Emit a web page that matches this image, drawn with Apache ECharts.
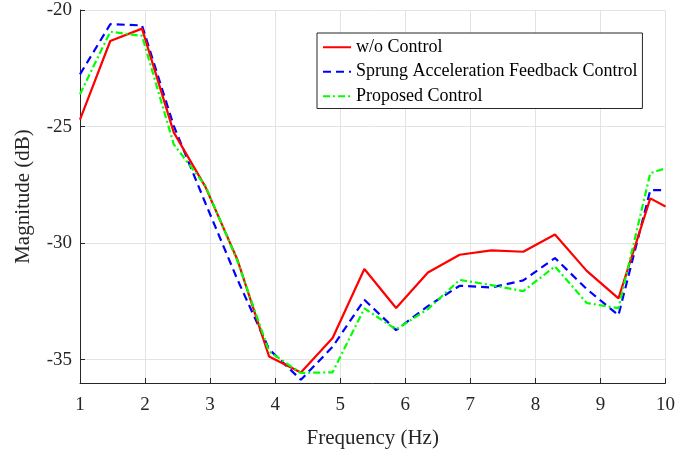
<!DOCTYPE html>
<html>
<head>
<meta charset="utf-8">
<script src="https://cdn.jsdelivr.net/npm/echarts@6/dist/echarts.min.js"></script>
<style>
html,body{margin:0;padding:0;background:#fff;}
#chart{width:678px;height:454px;}
</style>
</head>
<body>
<div id="chart"></div>
<script>
var freq = [1, 1.465, 1.953, 2.441, 2.93, 3.418, 3.906, 4.395, 4.883, 5.371, 5.859, 6.348, 6.836, 7.324, 7.813, 8.301, 8.789, 9.277, 9.766, 10];
var woControl = [-24.7, -21.33, -20.8, -25.25, -27.6, -30.7, -34.86, -35.55, -34.07, -31.11, -32.78, -31.26, -30.5, -30.31, -30.37, -29.63, -31.19, -32.37, -28.08, -28.43];
var sprungControl = [-22.76, -20.61, -20.66, -24.97, -28.3, -31.55, -34.55, -35.86, -34.45, -32.43, -33.73, -32.7, -31.83, -31.9, -31.6, -30.64, -31.97, -33.09, -27.73, -27.73];
var proposedControl = [-23.61, -20.93, -21.11, -25.76, -27.55, -30.75, -34.65, -35.57, -35.54, -32.8, -33.7, -32.83, -31.58, -31.8, -32.06, -31.0, -32.57, -32.79, -27.0, -26.79];
var yTicks = [-35, -30, -25, -20];
var seriesNames = ['w/o Control', 'Sprung Acceleration Feedback Control', 'Proposed Control'];

function pairs(xs, ys){ return xs.map(function(x,i){ return [x, ys[i]]; }); }

var font = 'Liberation Serif';
var txt = '#262626';
var chart = echarts.init(document.getElementById('chart'), null, {renderer:'canvas'});
chart.setOption({
  animation: false,
  backgroundColor: '#fff',
  grid: {left: 80, right: 11, top: 10, bottom: 71, containLabel: false},
  legend: {
    orient: 'vertical',
    left: 317, top: 33,
    backgroundColor: '#fff',
    borderColor: '#262626', borderWidth: 1, borderRadius: 0,
    padding: [5, 5, 3, 5],
    itemGap: 6,
    itemWidth: 28, itemHeight: 2,
    itemStyle: {color: 'rgba(0,0,0,0)', borderWidth: 0},
    textStyle: {fontFamily: font, fontSize: 18, color: '#000', lineHeight: 18.5},
    data: seriesNames
  },
  xAxis: {
    type: 'value', min: 1, max: 10, interval: 1,
    name: 'Frequency (Hz)', nameLocation: 'middle', nameGap: 45,
    nameTextStyle: {fontFamily: font, fontSize: 21, color: txt},
    axisLine: {show: true, lineStyle: {color: '#262626', width: 1}},
    axisTick: {show: true, inside: true, length: 5, lineStyle: {color: '#262626'}},
    axisLabel: {fontFamily: font, fontSize: 19, color: txt, margin: 13},
    splitLine: {show: true, lineStyle: {color: '#e3e3e3', width: 1}}
  },
  yAxis: {
    type: 'value', min: -36, max: -20,
    name: 'Magnitude (dB)', nameLocation: 'middle', nameGap: 46, nameRotate: 90,
    nameTextStyle: {fontFamily: font, fontSize: 21, color: txt},
    axisLine: {show: true, lineStyle: {color: '#262626', width: 1}},
    axisTick: {show: true, inside: true, length: 5, customValues: yTicks, lineStyle: {color: '#262626'}},
    axisLabel: {fontFamily: font, fontSize: 19, color: txt, margin: 8, customValues: yTicks},
    splitLine: {show: true, customValues: yTicks, lineStyle: {color: '#e3e3e3', width: 1}}
  },
  series: [
    {name: seriesNames[0], type: 'line', data: pairs(freq, woControl), showSymbol: false, symbol: 'none',
     lineStyle: {color: '#ff0000', width: 2.2, type: 'solid'}, itemStyle: {color: '#ff0000'}, z: 3},
    {name: seriesNames[1], type: 'line', data: pairs(freq, sprungControl), showSymbol: false, symbol: 'none',
     lineStyle: {color: '#0000ff', width: 2.2, type: [8, 5]}, itemStyle: {color: '#0000ff'}, z: 2},
    {name: seriesNames[2], type: 'line', data: pairs(freq, proposedControl), showSymbol: false, symbol: 'none',
     lineStyle: {color: '#00ff00', width: 2.2, type: [7, 3, 2, 3]}, itemStyle: {color: '#00ff00'}, z: 4}
  ]
});
</script>
</body>
</html>
